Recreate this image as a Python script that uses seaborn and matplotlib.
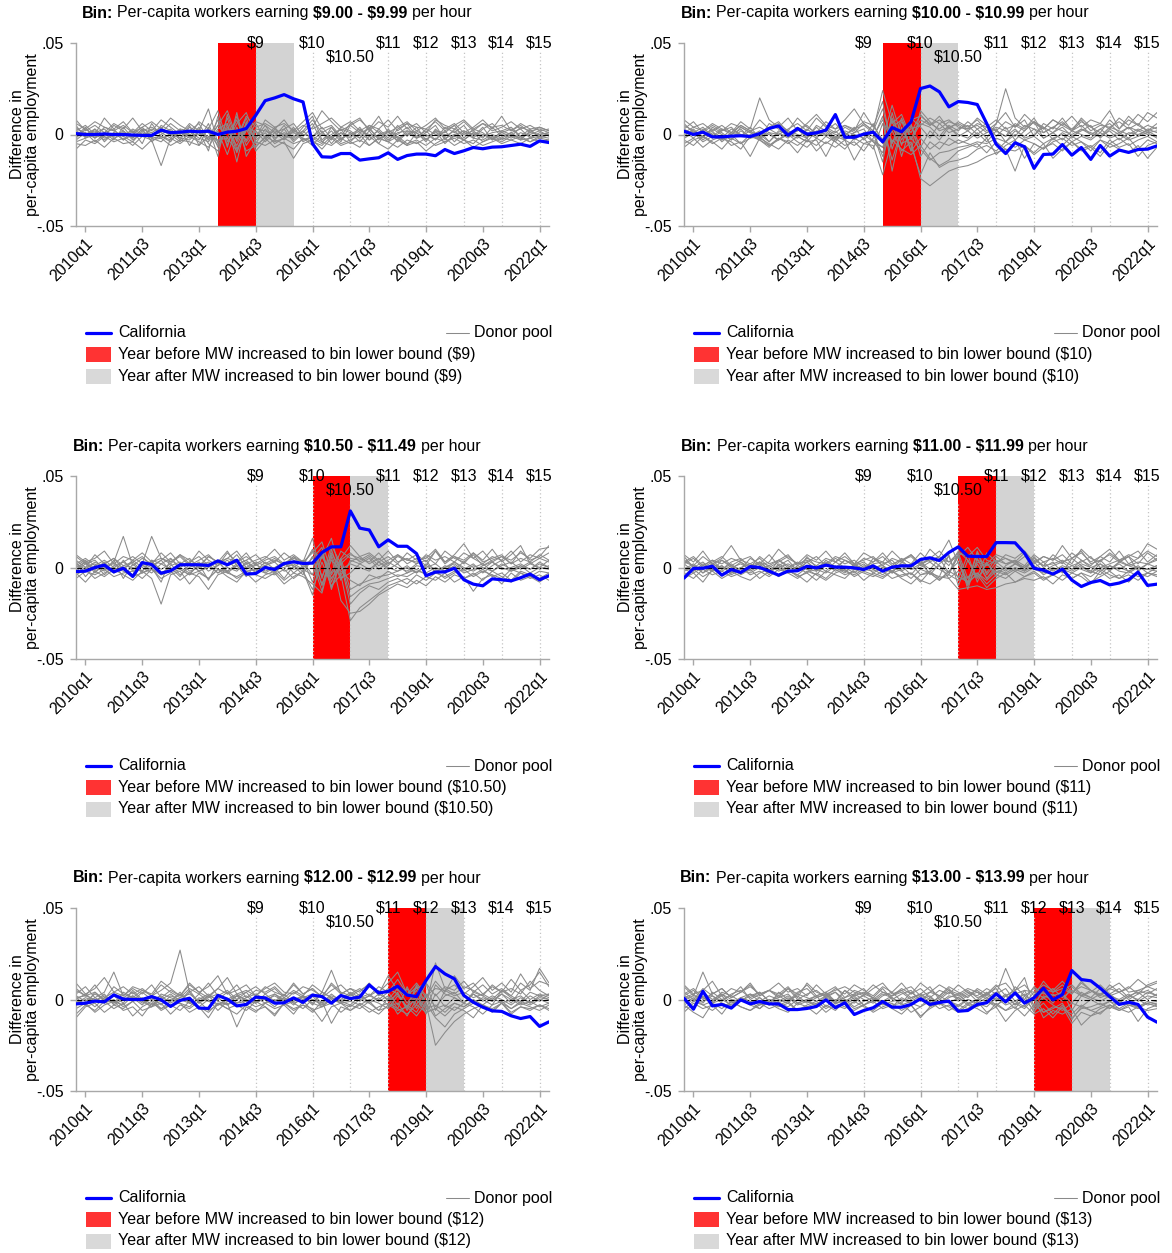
import numpy as np
import pandas as pd
import matplotlib
matplotlib.use('Agg')
import matplotlib.pyplot as plt
import seaborn as sns
from matplotlib.lines import Line2D
from matplotlib.patches import Rectangle

# quarters 2009q4 .. 2022q2
quarters = ['2009q4'] + [f'{y}q{q}' for y in range(2010, 2023) for q in range(1, 5)][:50]
tick_quarters = ['2010q1', '2011q3', '2013q1', '2014q3', '2016q1', '2017q3', '2019q1', '2020q3', '2022q1']

# minimum wage steps
mw_labels = ['$9', '$10', '$10.50', '$11', '$12', '$13', '$14', '$15']
mw_quarters = ['2014q3', '2016q1', '2017q1', '2018q1', '2019q1', '2020q1', '2021q1', '2022q1']

# bins
bin_low = ['$9.00', '$10.00', '$10.50', '$11.00', '$12.00', '$13.00']
bin_high = ['$9.99', '$10.99', '$11.49', '$11.99', '$12.99', '$13.99']
bin_bound = ['$9', '$10', '$10.50', '$11', '$12', '$13']

# California differences
ca_9 = [0.0005, 0.0, 0.0, 0.0003, 0.0, 0.0, -0.0003, -0.0005, -0.0005, 0.0024,
        0.0010, 0.0013, 0.0018, 0.0015, 0.0018, 0.0, 0.0013, 0.0018, 0.0033, 0.0105,
        0.0185, 0.0200, 0.0218, 0.0195, 0.0178, -0.0050, -0.0122, -0.0124, -0.0104, -0.0104,
        -0.0140, -0.0133, -0.0127, -0.0100, -0.0136, -0.0115, -0.0107, -0.0107, -0.0116, -0.0082,
        -0.0104, -0.0089, -0.0071, -0.0078, -0.0069, -0.0067, -0.0060, -0.0053, -0.0065, -0.0035,
        -0.0044]
ca_10 = [0.0018, 0.0, 0.0013, -0.0013, -0.0013, -0.0009, -0.0007, -0.0011, 0.0005, 0.0033,
         0.0047, -0.0004, 0.0033, 0.0002, 0.0009, 0.0024, 0.0109, -0.0015, -0.0015, 0.0002,
         0.0013, -0.0040, 0.0038, 0.0015, 0.0069, 0.0251, 0.0265, 0.0233, 0.0151, 0.0180,
         0.0175, 0.0164, 0.0060, -0.0053, -0.0104, -0.0045, -0.0067, -0.0185, -0.0109, -0.0107,
         -0.0055, -0.0113, -0.0071, -0.0136, -0.0060, -0.0118, -0.0085, -0.0098, -0.0082, -0.0080,
         -0.0062]
ca_1050 = [-0.0022, -0.0020, 0.0, 0.0013, -0.0024, -0.0004, -0.0049, 0.0027, 0.0016, -0.0031,
           -0.0018, 0.0015, 0.0015, 0.0015, 0.0011, 0.0036, 0.0015, 0.0040, -0.0036, -0.0033,
           0.0, -0.0011, 0.0022, 0.0031, 0.0022, 0.0024, 0.0082, 0.0113, 0.0113, 0.0309,
           0.0215, 0.0205, 0.0113, 0.0151, 0.0116, 0.0116, 0.0076, -0.0045, -0.0025, -0.0024,
           -0.0004, -0.0067, -0.0091, -0.0100, -0.0062, -0.0067, -0.0073, -0.0056, -0.0036, -0.0067,
           -0.0045]
ca_11 = [-0.0058, -0.0005, -0.0004, 0.0007, -0.0042, -0.0011, -0.0027, 0.0005, 0.0, -0.0020,
         -0.0042, -0.0020, -0.0018, 0.0007, -0.0002, 0.0013, 0.0002, 0.0002, -0.0002, -0.0011,
         0.0009, -0.0020, 0.0002, 0.0009, 0.0009, 0.0044, 0.0053, 0.0038, 0.0082, 0.0113,
         0.0062, 0.0060, 0.0060, 0.0136, 0.0136, 0.0135, 0.0078, -0.0004, -0.0015, -0.0036,
         -0.0009, -0.0069, -0.0104, -0.0082, -0.0071, -0.0095, -0.0085, -0.0067, -0.0025, -0.0098,
         -0.0091]
ca_12 = [-0.0024, -0.0020, -0.0009, -0.0013, 0.0025, 0.0002, 0.0, 0.0, 0.0016, -0.0002,
         -0.0038, -0.0005, 0.0007, -0.0047, -0.0049, 0.0022, 0.0002, -0.0035, -0.0027, 0.0013,
         0.0009, -0.0020, -0.0018, 0.0009, -0.0016, 0.0024, 0.0016, -0.0020, 0.0022, 0.0005,
         0.0013, 0.0080, 0.0036, 0.0044, 0.0073, 0.0024, 0.0016, 0.0104, 0.0180, 0.0140,
         0.0113, 0.0022, -0.0015, -0.0042, -0.0062, -0.0065, -0.0089, -0.0104, -0.0093, -0.0147,
         -0.0122]
ca_13 = [0.0007, -0.0053, 0.0045, -0.0035, -0.0027, -0.0047, -0.0002, -0.0024, -0.0011, -0.0024,
         -0.0024, -0.0055, -0.0055, -0.0049, -0.0038, -0.0002, -0.0045, -0.0018, -0.0082, -0.0060,
         -0.0045, -0.0011, -0.0042, -0.0042, -0.0027, 0.0004, -0.0027, -0.0016, -0.0009, -0.0064,
         -0.0060, -0.0027, -0.0018, 0.0031, -0.0013, 0.0036, -0.0020, 0.0009, 0.0062, -0.0002,
         0.0027, 0.0158, 0.0109, 0.0102, 0.0062, 0.0016, -0.0027, -0.0015, -0.0027, -0.0096,
         -0.0124]

# donor pool differences, in thousandths
donors_9 = [
    [3, 1, -2, 4, 2, -1, 3, 0, -2, 5, 2, -3, 4, 1, -2, 8, -6, 10, -4, 3, 2, -1, 5, -3, 2, 8, 1, -3, 4, 2, -2, 5, 1, -4, 3, 6, -1, 2, -3, 4, 1, 5, -2, 3, 6, 1, -1, 4, 2, 3, 1],
    [-4, -2, 0, -3, 1, -1, -4, 2, -2, -1, -3, 1, -2, 4, -5, -9, 6, -15, 7, -4, -6, -3, -5, -8, -2, -4, -6, -1, -5, -3, 0, -6, -2, -4, -1, -5, -3, -6, -2, -4, -1, -3, -5, 0, -2, -4, -1, -3, -2, -1, 0],
    [8, 2, 5, 1, 6, 3, 9, 2, 4, 1, 6, 2, -1, 7, 3, 13, -4, 6, 12, -2, 8, 4, 6, 2, 7, 12, 3, 5, -1, 6, 9, 2, 7, 4, 10, 3, 6, 1, 8, 5, 3, 7, 2, 6, 4, 5, 2, 6, 3, 4, 2],
    [-8, -3, -5, -1, -4, -2, -6, -1, -3, -17, -2, -5, -1, -4, -7, 2, -11, 4, -9, -6, -2, -7, -4, -13, -5, -3, -8, -2, -6, -4, -7, -1, -5, -8, -3, -6, -4, -9, -5, -2, -6, -3, -7, -4, -2, -5, -3, -1, -4, -2, -3],
    [2, 5, 0, 9, 3, 7, 1, 6, 2, 8, 4, 0, 6, 2, 14, -5, 9, -8, 2, 7, 5, 1, 3, 6, -1, 4, 13, 7, 2, 5, 8, 3, 10, 1, 4, 7, 2, 5, 9, 3, 6, 1, 4, 8, 3, 10, 2, 5, 1, 4, 2],
    [0, -1, 2, -2, 0, 1, -1, 0, 1, -2, 0, 2, -1, 0, 3, -4, 2, -6, 5, 1, -1, 2, 0, 1, -2, -6, 0, -2, 1, -1, 2, 0, -1, 1, -2, 0, 2, -1, 1, 0, -1, 2, 0, -1, 1, 2, 0, -2, 1, 0, 1],
    [5, -2, 3, -4, 1, -3, 2, -5, 6, -1, -4, 3, -6, 2, -9, 10, -7, 12, -12, -3, 1, -5, -2, 4, -3, -2, -5, 4, -3, 1, -4, 2, -5, 3, -2, -6, 1, -3, 2, -5, 0, -3, 1, -4, -1, -3, 0, -2, -4, -1, -2],
    [-2, 3, -1, 1, -3, 4, -2, 3, -4, 0, 3, -2, 5, -6, 4, -12, 11, -4, 6, -9, -3, 3, -1, -2, 4, 10, -3, 2, -4, 5, 1, -3, 3, -2, 5, -1, 4, -3, 2, 1, 5, -2, 3, 1, -3, 2, 4, -1, 3, -2, 0],
    [-5, -6, -3, -7, -2, -5, -4, -8, -3, -2, -6, -3, -4, -6, -1, -3, -2, -9, 3, -7, -1, -4, -2, -5, -3, -1, -4, -6, -2, -5, -3, -6, -2, -4, -7, -3, -5, -2, -6, -4, -2, -5, -3, -6, -4, -2, -3, -5, -2, -4, -3],
    [6, 3, 7, 4, 2, 5, 1, 4, 7, 3, 9, 5, 2, 6, -3, 5, 13, -2, 10, 4, 6, 3, 8, 1, 5, 3, 6, 9, 4, 7, 2, 5, 3, 8, 2, 6, 4, 3, 7, 2, 5, 8, 3, 6, 2, 4, 7, 3, 5, 2, 3],
    [2, -1, 1, 3, -2, 0, 2, -1, 3, 1, -2, 2, 0, -3, 6, -7, 4, -3, 9, -5, 3, -2, 1, -1, 2, -3, 1, 4, -2, 0, 3, -1, 2, -3, 1, 2, -2, 3, 0, -1, 2, -3, 1, 0, -2, 1, 3, -1, 0, 2, -1],
    [-1, 4, -2, 1, 3, -3, 0, 4, -1, 2, 0, -4, 1, 3, -3, 5, -2, 8, -6, 2, -4, 1, -3, 2, 0, -1, 4, -2, 3, -4, 1, 3, -2, 0, -3, 2, 1, -4, 3, -2, 0, 2, -1, 4, -3, 0, -2, 1, -1, 0, 1],
    [4, 0, 3, -1, 5, 2, -2, 3, 1, 4, -1, 3, 2, -2, -4, 3, 6, -10, 4, -2, 5, -3, 3, -4, 1, 6, -4, 0, 3, 1, -2, 4, -3, 2, 0, 4, -2, 1, 5, -3, 3, 0, 2, -2, 4, -1, 1, 3, -2, 1, 0],
    [-3, 1, -4, 0, -1, 2, -3, 1, -2, -4, 1, -2, -3, 2, 1, -6, 3, 2, -3, 6, -2, 4, -2, 3, -4, -1, 2, -5, 1, -2, 4, -3, 0, 2, -4, 1, -2, 0, -3, 2, -4, 1, -2, -3, 0, -2, 1, -3, 2, -1, 0],
]
donors_10 = [
    [5, 2, -1, 3, 0, -3, 4, 1, -2, 6, 3, -1, 2, 5, 0, 3, -2, 4, 1, 6, 2, 14, -5, 9, -3, 6, 4, -1, 5, 2, 7, 3, -2, 6, 12, 4, 8, -1, 6, 3, 9, 2, 7, 4, 1, 8, 3, 10, 5, 2, 6],
    [-3, -6, -1, -4, -8, -2, -5, 0, -3, -7, -2, -4, -10, -3, -6, -1, -4, -8, -2, -5, -3, -7, 2, -9, -4, -24, -28, -24, -20, -18, -17, -15, -12, -10, -8, -9, -6, -11, -7, -5, -9, -4, -8, -6, -10, -3, -7, -5, -12, -6, -4],
    [8, 4, 6, 2, 5, 1, 7, 3, 20, 8, 4, 9, 2, 6, 11, 5, 3, 8, 14, 6, 2, 24, 6, 11, -2, 8, 5, 10, 3, 7, 4, 8, 2, 6, 25, 9, 4, 7, 3, 8, 5, 10, 4, 8, 6, 3, 9, 5, 11, 7, 12],
    [0, 2, -3, 1, -2, 3, 0, -1, 2, -4, 1, -2, 3, -1, 0, 2, -3, 1, -2, 0, -4, -10, 8, -12, 5, -7, 2, -3, 4, -1, 2, -2, 1, 3, -4, 2, -1, 3, -2, 1, -3, 2, 0, -2, 3, -1, 1, -2, 2, 0, -1],
    [-5, -2, -7, -3, -1, -6, -4, -12, -2, -5, -8, -3, -6, -2, -9, -4, -7, -3, -14, -5, -6, -22, -3, -8, -11, -6, -13, -17, -14, -9, -7, -5, -10, -4, -8, -20, -6, -10, -5, -13, -8, -4, -9, -7, -12, -5, -8, -10, -6, -13, -7],
    [3, 7, 1, 5, 2, 6, 4, 1, 8, 3, 6, 2, 9, 4, 1, 7, 3, 5, 2, 12, 4, 18, -8, 7, 1, 11, 5, 8, 4, 6, 3, 9, 5, 2, 7, 4, 11, 6, 3, 8, 5, 2, 9, 4, 6, 13, 3, 8, 5, 12, 9],
    [-2, 1, -4, -1, -3, 0, -5, -2, -1, -6, -3, 0, -4, -7, -2, -5, -1, -3, -6, -2, -8, 6, -14, 3, -6, -22, -10, -18, -15, -14, -12, -8, -6, -9, -4, -7, -3, -5, -8, -2, -6, -1, -4, -7, -3, -5, -2, -6, -3, -1, -4],
    [6, 1, 4, -1, 3, 0, 5, 2, -1, 4, 7, 1, 3, -2, 5, 2, 6, 0, 3, 5, 1, -15, 12, -6, 9, 4, -2, 6, 1, 3, 5, 0, 4, 2, -1, 6, 3, 9, 1, 4, 7, 2, 5, 0, 3, 6, 1, 4, 2, 5, 3],
    [-7, -3, -1, -5, -2, -4, -8, -1, -3, -6, -2, -5, -1, -4, -3, -12, -2, -6, -4, -9, -2, 10, -20, 4, -9, -2, -8, -4, -6, -3, -5, -7, -2, -11, -6, -3, -13, -5, -8, -4, -2, -6, -4, -9, -3, -7, -5, -2, -8, -3, -5],
    [1, 4, 2, 6, 3, 1, 5, 2, 4, 1, 0, 3, 6, 2, 9, 4, 1, 5, 3, 7, 5, -3, 16, -1, 8, 10, 6, 3, 7, 5, 2, 6, 4, 8, 3, 5, 2, 7, 4, 1, 6, 3, 8, 2, 5, 4, 7, 3, 6, 2, 4],
    [2, -2, 3, 0, -3, 1, -1, 4, -2, 1, -3, 2, 0, -2, 4, -1, 2, -3, 1, 3, -4, -7, 9, -3, 6, -12, -4, -8, -2, -5, -3, 1, -4, 2, -1, 3, -2, 0, 4, -3, 1, -2, 3, 0, -1, 2, -3, 1, 0, 2, -1],
    [-1, 3, -2, 4, 1, -3, 2, -1, 0, -4, 2, 0, -2, 3, -1, 1, -4, 2, 0, -2, 6, -5, 4, 8, -9, 13, 7, 2, 4, 0, -2, 3, 6, -1, 4, -3, 2, 7, -2, 1, 4, -1, 2, 5, -2, 3, 0, 4, -1, 3, 1],
    [3, 0, 1, -2, 2, 4, -1, 2, -3, 3, 0, -1, 4, 1, -2, 3, 0, -1, 4, -3, 2, -12, 4, -5, -2, -8, -14, -10, -9, -7, -6, -4, -5, -2, -4, 0, -3, -1, -5, -2, 0, -4, -1, -3, 1, -2, 0, -3, -1, 1, -2],
    [-2, 1, -1, 2, -4, 0, 3, -2, 1, 0, -3, 1, -1, -4, 2, 0, -2, 1, -3, 1, -1, 8, -4, 2, 3, 5, 9, 6, 8, 4, 3, 5, 1, 4, 2, -1, 5, 3, 1, 4, 2, 0, 3, 1, -1, 4, 2, 0, 3, 1, 2],
]
donors_1050 = [
    [6, 2, 4, -1, 3, 17, 1, 5, 2, 8, 3, 6, 1, 4, 7, 2, 5, 3, 8, 1, 4, 6, 2, 5, 3, 16, -6, 12, 2, 7, 5, 3, 8, 2, 6, 4, 7, 3, 9, 2, 6, 4, 8, 3, 5, 7, 2, 9, 4, 6, 12],
    [-3, -8, -2, -5, -1, -4, -7, -2, -6, -20, -4, -2, -9, -3, -6, -1, -5, -8, -2, -4, -6, -3, -9, -5, -2, -12, 3, -10, -4, -29, -22, -18, -14, -10, -8, -6, -9, -5, -7, -3, -8, -5, -13, -6, -4, -9, -3, -7, -5, -8, -4],
    [2, 5, 1, 4, 0, 3, 6, 2, 17, 5, 3, 7, 2, 9, 4, 1, 8, 3, 6, 2, 5, 10, 4, 7, 3, 8, 14, -3, 9, 5, 4, 7, 3, 6, 2, 8, 4, 5, 10, 3, 7, 13, 5, 9, 3, 6, 4, 8, 5, 10, 11],
    [-6, -2, -4, -1, -5, -3, -2, -6, -1, -4, -2, -7, -3, -5, -12, -4, -2, -6, -3, -8, -4, -2, -7, -3, -5, -9, -14, 6, -18, -25, -24, -20, -15, -12, -9, -11, -7, -10, -5, -8, -4, -6, -3, -7, -2, -5, -8, -3, -6, -4, -7],
    [4, 0, 7, 2, 5, -1, 3, 6, 1, 4, 8, 2, 5, 0, 6, 3, 9, 1, 4, 7, 2, 5, 1, 6, 3, -4, 9, -8, 5, 12, 6, 2, 5, 1, 7, 4, 3, 6, 2, 9, 5, 3, 7, 1, 4, 6, 2, 5, 3, 7, 4],
    [-1, 3, -3, 2, -2, 0, -4, 1, -1, -3, 0, -5, 2, -2, 1, -3, 0, -2, 3, -1, 1, -2, 2, -1, 0, 3, -13, 10, -6, -3, 2, -1, 3, 0, -2, 1, -3, 2, -1, 0, 2, -2, 1, -1, 3, 0, -2, 1, -1, 2, 0],
    [3, -5, 1, -2, 4, -6, 2, -3, 0, -8, 5, -1, -4, 2, -7, 3, -2, 1, -5, 2, -3, 0, -6, 1, -4, 6, -9, 4, -2, -7, -10, -4, -6, -2, -5, -3, -1, -4, -2, -6, -3, -1, -5, -2, -4, -6, -1, -3, -5, -2, -3],
    [7, 3, 5, 9, 2, 6, 4, 8, 3, 5, 2, 7, 4, 1, 6, 3, 5, 9, 2, 4, 6, 3, 8, 4, 2, 9, 5, 16, -4, 3, 6, 8, 4, 9, 3, 5, 2, 7, 4, 6, 3, 8, 5, 2, 6, 4, 9, 3, 7, 5, 8],
    [-4, -1, -6, -3, 0, -2, -5, -3, -1, -6, -3, -1, -4, -2, -6, -1, -3, -5, -2, -1, -3, -4, -1, -6, -2, -15, 8, -6, 2, -20, -14, -10, -12, -8, -6, -9, -4, -7, -3, -5, -2, -6, -4, -1, -5, -3, -7, -2, -4, -6, -3],
    [1, 4, -1, 2, 5, 1, 3, -2, 4, 2, 5, 0, 3, 6, 1, 4, 2, 7, 0, 3, 1, 4, 2, 6, 0, 5, 11, -11, 4, 8, 3, 6, 1, 4, 7, 2, 5, 1, 9, 3, 6, 2, 8, 4, 10, 3, 7, 12, 2, 5, 3],
    [2, -1, 3, 0, -3, 4, -2, 1, 3, -1, 2, -4, 0, 3, -2, 1, 4, -1, 2, -3, 1, 3, -2, 0, 4, -8, 6, -4, 5, -12, -9, -7, -5, -4, -2, 0, -3, 1, -2, 0, 3, -1, 2, -3, 1, 4, -2, 0, 3, -1, 1],
    [-2, 2, -1, 3, -3, 1, 0, -2, 4, -4, 1, 3, -2, 0, 2, -3, 1, 3, -1, 2, -2, 0, 3, -3, 1, 10, -5, 7, -7, 4, 2, 5, -1, 3, 0, -2, 2, 4, -3, 1, -1, 3, 0, 2, -2, 1, 3, -1, 2, 0, 4],
    [0, 3, -2, 1, 2, -1, 4, 0, -3, 2, -1, 1, 3, -2, 0, 4, -3, 1, 0, -2, 3, -1, 0, 2, -1, -4, 9, -12, 3, -16, -12, -9, -8, -6, -4, -5, -2, -3, 0, -2, 1, -3, -1, 0, -2, 2, -1, 1, -3, 0, -1],
    [-3, 0, 2, -4, 1, 3, -1, 2, 0, 4, -2, 0, -3, 1, 3, -1, -2, 2, 4, -1, 0, -3, 2, 1, -2, 6, -10, 8, -1, 2, 0, -2, 3, -1, 2, -3, 1, 0, 2, -2, 3, 0, -2, 1, 3, -1, 0, 2, -1, 3, 0],
]
donors_11 = [
    [4, 1, 6, 2, -1, 3, 5, 0, 2, 7, 1, 4, -2, 3, 6, 1, 5, 2, 4, 0, 3, 6, 1, 5, 2, 8, 3, 6, 15, 2, -8, 9, -3, 6, 2, 4, 1, 7, 3, 5, 2, 8, 4, 1, 6, 3, 9, 2, 5, 13, 10],
    [-3, -6, -1, -4, -2, -5, -3, -1, -6, -2, -4, -1, -5, -3, -7, -2, -4, -6, -1, -3, -5, -2, -6, -4, -3, -7, -9, -5, -6, -12, -11, -10, -12, -11, -9, -8, -6, -7, -5, -9, -4, -6, -3, -8, -5, -2, -6, -4, -7, -3, -5],
    [7, 3, 9, 2, 5, 12, 4, 6, 1, 3, 10, 5, 2, 7, 4, 9, 3, 6, 2, 8, 5, 3, 9, 4, 7, 2, 10, 5, 3, 8, 6, 11, 4, 2, 7, 5, 9, 3, 6, 4, 12, 5, 8, 3, 6, 10, 4, 7, 5, 9, 6],
    [-1, 2, -3, 0, -2, 1, -4, -1, 3, -2, 0, -3, 1, -1, -4, 2, -2, 0, -3, 1, -1, -4, 0, -2, -6, -1, -3, -7, -2, 3, -10, 2, -6, -1, -3, 0, -2, 1, -4, -1, 0, -2, 1, -3, 0, -1, 2, -2, 0, -1, 1],
    [2, 5, 0, 3, 6, 1, 4, 2, 5, 0, 3, 6, 2, 4, 1, 5, 3, 8, 2, 4, 6, 1, 5, 3, 7, 2, 4, 6, 1, 9, 4, -5, 8, 3, 5, 2, 6, 4, 1, 7, 3, 5, 9, 2, 4, 7, 3, 6, 2, 8, 4],
    [-4, -1, -5, -2, -6, -3, 0, -4, -2, -5, -1, -3, -6, -2, -4, -7, -3, -1, -5, -2, -4, -6, -2, -5, -3, -8, -2, -6, -4, -7, -5, -3, -9, -4, -6, -2, -5, -3, -7, -4, -2, -6, -3, -5, -1, -4, -6, -2, -5, -3, -4],
    [6, 0, 3, -2, 4, 1, -1, 5, 2, -3, 4, 1, -2, 6, 0, 3, -1, 4, 2, -2, 5, 1, -3, 3, 0, 4, -4, 2, 6, -6, 7, -8, 3, -5, 1, 4, -2, 6, 0, 3, -3, 5, 1, -2, 4, -1, 3, 6, -2, 2, 0],
    [-6, -3, -8, -1, -4, -2, -5, -7, -3, -1, -5, -2, -4, -8, -3, -6, -1, -4, -2, -7, -3, -5, -2, -6, -9, -4, -3, -7, -2, -5, -8, -4, -11, -6, -3, -8, -5, -2, -6, -4, -7, -3, -5, -9, -2, -6, -4, -8, -3, -5, -2],
    [3, 6, 1, 4, 2, 5, 3, 0, 6, 2, 4, 7, 1, 5, 3, 2, 6, 4, 1, 5, 3, 8, 2, 4, 6, 1, 5, 9, 3, 6, 11, 4, 2, 7, 5, 3, 8, 2, 6, 4, 7, 2, 10, 5, 3, 8, 4, 6, 9, 3, 7],
    [0, -2, 2, -1, 1, -3, 0, 2, -1, 1, -2, 0, 3, -1, -2, 1, 0, -3, 2, -1, 0, 1, -2, 2, -1, 0, 3, -1, -4, 7, -12, 5, -6, 1, -2, 2, -1, 0, 3, -2, 1, -1, 2, 0, -2, 1, -1, 2, 0, -1, 1],
    [2, -2, 1, 4, -1, 2, -3, 1, 3, -1, 0, 2, -1, 3, -2, 4, 0, -2, 1, 3, -1, 2, 4, -2, 1, 3, -1, 5, -3, 6, -9, 8, -4, 3, -1, 2, 0, 3, -2, 1, 3, -1, 4, 0, 2, -2, 3, 1, -1, 2, 5],
    [-2, 1, -3, 2, 0, -1, 3, -2, 1, -4, 2, -1, 0, -3, 1, -2, 3, 0, -1, 2, -3, 0, -2, 1, -4, 2, -3, -5, 7, -10, 4, -6, 2, -3, 0, -2, 1, -1, -3, 0, -2, 1, -1, -3, 2, -1, 0, -2, 1, -3, 0],
    [3, 1, -1, 2, 4, 0, 2, -1, 3, 1, 4, 0, 2, 3, -1, 2, 0, 4, 1, -1, 2, 3, 0, 4, -1, 2, 5, 1, -3, 8, -6, 3, 1, 4, 2, 3, 0, 5, 1, 2, 4, 1, 3, 6, 0, 2, 4, 1, 3, 2, 4],
    [-1, -3, 0, -2, 1, -4, -1, -3, 0, -2, 1, -2, -4, 0, -1, -3, 1, -2, -4, -1, -2, 0, -3, -1, 2, -4, -2, 1, -6, -2, -9, -3, -7, -2, -4, -1, -3, 0, -2, -4, -1, -3, 0, -2, -4, 1, -2, -3, 0, -1, -2],
]
donors_12 = [
    [5, 2, 8, 1, 4, 7, 3, 6, 2, 5, 9, 27, 4, 7, 2, 6, 3, 8, 1, 5, 4, 7, 2, 9, 3, 6, 1, 5, 8, 3, 6, 2, 7, 4, 11, 3, 9, 2, 6, 5, 8, 3, 7, 12, 5, 9, 4, 14, 6, 10, 8],
    [-8, -3, -6, -1, -5, -2, -9, -4, -1, -6, -3, -2, -7, -4, -10, -2, -5, -8, -3, -6, -4, -9, -2, -5, -3, -7, -1, -13, -4, -6, -2, -5, -8, -3, -6, -4, -9, -2, -25, -18, -12, -8, -5, -3, -6, -2, -7, -4, -5, -3, -6],
    [3, 7, 1, 4, 15, 2, 6, 3, 8, 1, 5, 2, 9, 4, 1, 6, 12, 3, 5, 2, 7, 4, 2, 8, 3, 6, 1, 9, 4, 2, 5, 8, 3, 13, 5, 2, 7, -4, 20, 6, 3, 7, 5, 2, 8, 4, 6, 3, 10, 5, 2],
    [-2, 0, -4, 1, -1, -3, 2, -2, 0, -5, -1, 3, -2, -4, 0, -6, -1, 2, -3, -1, 0, -4, 1, -2, -5, 0, -3, 1, -2, -4, 0, -2, -6, 1, -8, -3, -7, 2, -9, -5, -2, -4, 0, -3, 1, -2, -5, -1, -3, 0, -2],
    [9, 3, 6, 12, 4, 2, 7, 5, 3, 10, 6, 2, 8, 4, 7, 13, 3, 5, 8, 2, 6, 9, 4, 3, 7, 5, 2, 8, 3, 6, 4, 9, 2, 6, 3, -5, 8, 1, 10, 4, 13, 6, 9, 3, 7, 4, 11, 5, 8, 15, 7],
    [-5, -2, -7, -3, -1, -6, -4, -9, -2, -5, -3, -6, -1, -4, -7, -2, -5, -3, -6, -1, -4, -8, -2, -6, -3, -5, -12, -4, -2, -6, -3, -7, -4, -2, -5, -8, -3, -7, -5, -9, -4, -6, -10, -3, -7, -2, -8, -4, -6, -3, -5],
    [1, -3, 4, -1, 2, -2, 5, 0, -4, 3, 1, -1, 4, -2, 2, -3, 0, 3, -1, 1, -2, 3, 0, -1, 2, -3, 4, 1, -2, 3, -1, 2, 0, 4, -3, 6, -5, 3, -4, 2, 4, -2, 3, 0, -3, 5, 1, -2, 2, -1, 3],
    [-10, -4, -2, -7, -3, -5, -1, -6, -4, -2, -8, -3, -5, -1, -6, -3, -2, -15, -4, -7, -2, -5, -3, -8, -1, -6, -4, -2, -7, -3, -5, -1, -6, -4, -2, -9, 0, -7, -5, -3, -6, -2, -4, -8, -3, -1, -5, -2, -4, -6, -3],
    [6, 2, 4, 0, 7, 3, 1, 5, 2, 8, 4, 1, 6, 3, 9, 2, 5, 0, 4, 7, 3, 6, 1, 5, 2, 8, 4, 16, 3, 6, 2, 7, 4, 9, 15, 3, 6, 9, 2, 7, 5, 10, 4, 8, 3, 6, 2, 9, 5, 17, 9],
    [0, 3, -1, 2, -2, 1, 4, -1, 1, -3, 2, 0, -2, 3, -1, 1, -3, 0, 2, -2, 1, -1, 3, -2, 0, 2, -4, 1, -1, 0, 3, -2, 1, -3, 4, -6, 2, -8, 3, -4, 1, -2, 3, -1, 2, 0, -3, 1, -2, 2, 0],
    [2, -1, 3, 0, -2, 4, 1, -3, 2, 0, 3, -1, 5, -2, 1, 3, -1, 2, 4, -2, 1, 3, -1, 0, 2, -2, 4, 1, -1, 3, 0, 2, 5, -1, 3, -4, 7, -2, -10, -15, -8, -5, -2, 1, -1, 3, 0, 2, -2, 1, 0],
    [-2, 1, -1, 3, -3, 0, 2, -1, -4, 1, -1, 4, -2, 0, 3, -1, -3, 2, 0, -2, 3, -1, 1, -3, 2, 0, -2, 3, -1, -3, 2, -1, 3, 0, 6, -2, 5, -6, 8, 3, 1, -2, 4, 2, -1, 3, -2, 5, 0, 3, 1],
    [1, 2, 0, -2, 3, 1, -1, 4, 0, 2, -2, 1, 3, -1, 2, 0, 4, -2, 1, 3, 0, 2, -1, 4, 1, 3, -2, 2, 0, 4, 1, 3, -1, 2, -5, 7, -3, 9, -6, 5, 2, 4, 1, 3, 0, 5, 2, -1, 4, 2, 3],
    [-1, -3, 1, -2, 0, -4, -1, 1, -3, -1, 0, -2, -4, 1, -1, -3, 0, -2, -1, -4, -2, 0, -3, -1, 1, -2, -4, 0, -2, -1, -3, 0, -2, -5, 2, -4, 1, -5, -3, -7, -2, -4, -1, -3, -5, -2, 0, -3, -1, -4, -2],
]
donors_13 = [
    [7, 2, 15, 3, 6, 1, 4, 8, 2, 5, 3, 7, 1, 9, 4, 2, 6, 3, 8, 5, 2, 7, 4, 9, 3, 6, 1, 5, 3, 8, 4, 2, 6, 3, 17, 5, 8, 2, 10, 4, 6, 3, 9, 5, 2, 8, 4, 6, 11, 7, 9],
    [-3, -7, -10, -2, -5, -1, -4, -6, -2, -5, -3, -1, -6, -4, -2, -7, -3, -5, -1, -4, -6, -2, -5, -8, -3, -10, -4, -2, -6, -3, -5, -1, -7, -4, -12, -6, -3, -8, -5, -10, -4, -13, -7, -9, -5, -3, -6, -4, -12, -5, -3],
    [2, 5, 0, 3, 6, 1, 4, 9, 2, 5, 1, 6, 3, 8, 2, 4, 7, 1, 5, 3, 8, 4, 2, 6, 3, 9, 5, 2, 7, 4, 1, 6, 3, 8, 2, 5, 12, -4, 6, 4, 8, 3, 10, 5, 2, 6, 4, 7, 3, 8, 10],
    [-5, -1, -3, -6, -2, -4, 0, -3, -5, -1, -4, -2, -6, -3, -1, -5, -2, -4, -6, -3, -1, -5, -3, -2, -7, -4, -1, -5, -3, -6, -2, -4, -1, -3, -6, -2, -5, 1, -10, -6, -8, -5, -14, -9, -7, -4, -6, -3, -5, -2, -4],
    [4, 0, 6, 2, -1, 3, 5, 1, 4, -1, 2, 6, 0, 3, 5, 1, 4, -2, 3, 6, 0, 4, 2, 5, 1, 3, 7, 0, 4, 2, 5, 1, 3, 6, -2, 4, 0, 7, 3, 6, 1, 5, 2, 4, 8, 3, 6, 1, 5, 3, 6],
    [-1, -4, 2, -2, 0, -3, 1, -1, -5, 0, -2, 1, -3, -1, 2, -4, 0, -2, 1, -3, 0, -1, -4, 1, -2, 0, -3, 2, -1, -4, 0, -2, 1, -3, 0, -5, 2, -7, 1, -3, -6, -2, -4, 0, -3, -1, -5, -2, -4, -1, -3],
    [8, 3, 5, 10, 2, 6, 4, 7, 3, 5, 9, 4, 6, 2, 8, 3, 5, 7, 4, 2, 6, 9, 3, 5, 7, 2, 4, 8, 5, 3, 6, 4, 2, 7, 9, 3, 5, 4, 8, 5, 10, 4, 7, 5, 3, 6, 9, 4, 5, 7, 5],
    [-7, -2, -5, -3, -8, -1, -4, -6, -3, -2, -5, -7, -2, -4, -8, -3, -6, -1, -5, -3, -7, -4, -2, -6, -3, -9, -5, -2, -4, -7, -3, -5, -8, -2, -6, -4, -9, -3, -7, -5, -2, -11, -4, -6, -8, -3, -5, -7, -4, -6, -5],
    [1, 3, -2, 4, 0, 2, -1, 3, 1, -3, 4, 0, 2, -2, 1, 3, -1, 5, 0, 2, -1, 3, 1, -2, 4, 0, 2, -3, 1, 3, -2, 0, 4, -1, 3, -3, 5, -5, 2, 0, 3, -2, 4, 1, -1, 2, 0, 3, -1, 2, 1],
    [3, 6, 1, -1, 4, 2, 7, 0, 3, 5, 2, -1, 4, 6, 1, 3, -2, 5, 2, 4, 1, 6, 0, 3, 5, -1, 4, 2, 6, 0, 3, 5, 1, 4, -1, 7, 2, 6, 4, -2, 5, 8, 3, 1, 6, 2, 4, 0, 3, 5, 2],
    [2, -1, 4, 0, 3, -2, 1, 3, -1, 2, 0, -2, 3, 1, -1, 2, 4, 0, -2, 3, 1, -1, 2, 4, 0, 3, -2, 1, 5, -1, 2, 4, 0, 3, 6, -1, 3, -3, 5, 2, 4, -6, 2, 5, 1, 3, -1, 2, 4, 0, 3],
    [-2, 1, -3, -1, 2, -4, 0, -2, 1, -3, -1, 2, -2, 0, -4, 1, -2, -1, 2, -3, 0, -2, 1, -3, -1, 2, -4, 0, -2, 1, -3, 0, -1, -4, 2, -3, 0, -6, -2, -8, -3, -10, -5, -4, -2, -5, -1, -3, -4, -2, -1],
    [0, 2, 1, -2, 3, 0, -1, 2, 4, -1, 1, 3, -2, 0, 2, 4, -1, 1, 3, 0, -2, 2, 4, -1, 1, 3, 0, -2, 2, 1, 4, -1, 3, 0, 2, 5, -2, 4, 1, 3, -1, 7, 2, 0, 3, 1, -2, 2, 0, 4, 2],
    [-3, 0, -1, 2, -2, -4, 1, -1, -3, 0, -2, -4, 0, -1, -3, 2, -2, 0, -4, -1, 1, -3, -1, 0, -2, -4, 1, -2, -1, -3, 0, -2, -4, 1, -3, -1, -4, 2, -7, -4, -5, -8, -3, -6, -4, -1, -3, -2, 0, -3, -2],
]

california = [ca_9, ca_10, ca_1050, ca_11, ca_12, ca_13]
donor_pool = [donors_9, donors_10, donors_1050, donors_11, donors_12, donors_13]

# figure setup
sns.set_theme(style='white')
plt.rcParams['font.family'] = ['Liberation Sans', 'DejaVu Sans']
plt.rcParams.update({'text.color': 'black', 'axes.labelcolor': 'black',
                     'xtick.color': 'black', 'ytick.color': 'black'})
FS = 11.5
W, H = 1172, 1253
fig = plt.figure(figsize=(W / 100, H / 100), dpi=100)
renderer = fig.canvas.get_renderer()
SPACE = FS * 100 / 72 * 0.278
AX_COL = '#A8A8A8'


def esc(s):
    return s.replace('$', r'\$')


def fx(x):
    return x / W


def fy(y):
    return 1 - y / H


def text_width(t):
    return t.get_window_extent(renderer).width


lefts = [76, 684]
tops = [43, 476, 908]
AW, AH = 473, 183
qidx = {q: i for i, q in enumerate(quarters)}

for p in range(6):
    row, col = divmod(p, 2)
    L, T = lefts[col], tops[row]
    ax = fig.add_axes([fx(L), fy(T + AH), AW / W, AH / H])

    # shaded windows around the bin lower bound
    t0 = qidx[mw_quarters[mw_labels.index(bin_bound[p])]]
    ax.axvspan(t0 - 4, t0, color='#FF0000', lw=0, zorder=1)
    ax.axvspan(t0, t0 + 4, color='#D3D3D3', lw=0, zorder=1)

    # minimum wage markers
    for lab, q in zip(mw_labels, mw_quarters):
        x = qidx[q]
        low = lab == '$10.50'
        ax.vlines(x, -0.05, 0.035 if low else 0.0455, colors='#C4C4C4',
                  linestyles=(0, (1, 2)), lw=0.9, zorder=1.5)
        ax.text(x, 0.0425 if low else 0.05, esc(lab), ha='center', va='center',
                fontsize=FS, color='black', clip_on=False, zorder=5)

    # donor pool
    rows = [(k, t, v / 1000) for k, s in enumerate(donor_pool[p]) for t, v in enumerate(s)]
    dd = pd.DataFrame(rows, columns=['unit', 't', 'v'])
    sns.lineplot(data=dd, x='t', y='v', units='unit', estimator=None, color='#8A8A8A',
                 lw=0.75, ax=ax, legend=False, zorder=2)
    ax.axhline(0, color='black', lw=0.8, ls=(0, (5, 2, 1, 2)), zorder=2.5)

    # California
    ca = pd.DataFrame({'t': range(len(california[p])), 'v': california[p]})
    sns.lineplot(data=ca, x='t', y='v', color='#0000FF', lw=2.3, ax=ax, zorder=3)

    ax.set_xlim(0, 50)
    ax.set_ylim(-0.05, 0.05)
    ax.set_yticks([-0.05, 0, 0.05])
    ax.set_yticklabels(['-.05', '0', '.05'])
    ax.set_xticks([qidx[q] for q in tick_quarters])
    ax.set_xticklabels(tick_quarters, rotation=45, ha='right', rotation_mode='anchor')
    ax.set_xlabel('')
    ax.set_ylabel('Difference in\nper-capita employment', fontsize=FS, linespacing=1.0)
    ax.yaxis.set_label_coords(-36 / AW, 0.5)
    for s in ['top', 'right']:
        ax.spines[s].set_visible(False)
    for s in ['left', 'bottom']:
        ax.spines[s].set_color(AX_COL)
        ax.spines[s].set_linewidth(1.0)
    ax.tick_params(axis='both', which='both', direction='out', length=4, width=1,
                   color=AX_COL, labelcolor='black', labelsize=FS, pad=3,
                   left=True, bottom=True)
    ax.tick_params(axis='y', pad=5)

    # title with mixed weights
    parts = [('Bin:', 'bold'), ('Per-capita workers earning', 'normal'),
             (esc(bin_low[p] + ' - ' + bin_high[p]), 'bold'), ('per hour', 'normal')]
    ty = T - 30
    objs = [fig.text(0, fy(ty), s, fontweight=w, fontsize=FS, va='center', ha='left')
            for s, w in parts]
    widths = [text_width(o) for o in objs]
    total = sum(widths) + SPACE * (len(objs) - 1)
    x = L + AW / 2 - 36 - total / 2
    for o, wd in zip(objs, widths):
        o.set_x(fx(x))
        x += wd + SPACE

    # legend
    lx = L + 10
    rx = L + AW + 3
    y1, y2, y3 = T + AH + 107, T + AH + 128.5, T + AH + 150
    fig.add_artist(Line2D([fx(lx), fx(lx + 25)], [fy(y1), fy(y1)], color='#0000FF', lw=2.3))
    fig.text(fx(lx + 32), fy(y1), 'California', fontsize=FS, va='center', ha='left')
    fig.add_artist(Rectangle((fx(lx), fy(y2 + 7.5)), 25 / W, 15 / H, color='#FF3333', lw=0))
    fig.text(fx(lx + 32), fy(y2), esc(f'Year before MW increased to bin lower bound ({bin_bound[p]})'),
             fontsize=FS, va='center', ha='left')
    fig.add_artist(Rectangle((fx(lx), fy(y3 + 7.5)), 25 / W, 15 / H, color='#D9D9D9', lw=0))
    fig.text(fx(lx + 32), fy(y3), esc(f'Year after MW increased to bin lower bound ({bin_bound[p]})'),
             fontsize=FS, va='center', ha='left')
    dt = fig.text(fx(rx), fy(y1), 'Donor pool', fontsize=FS, va='center', ha='right')
    dw = text_width(dt)
    fig.add_artist(Line2D([fx(rx - dw - 28), fx(rx - dw - 5)], [fy(y1), fy(y1)],
                          color='#8A8A8A', lw=0.75))

fig.savefig('out.png', dpi=100)
